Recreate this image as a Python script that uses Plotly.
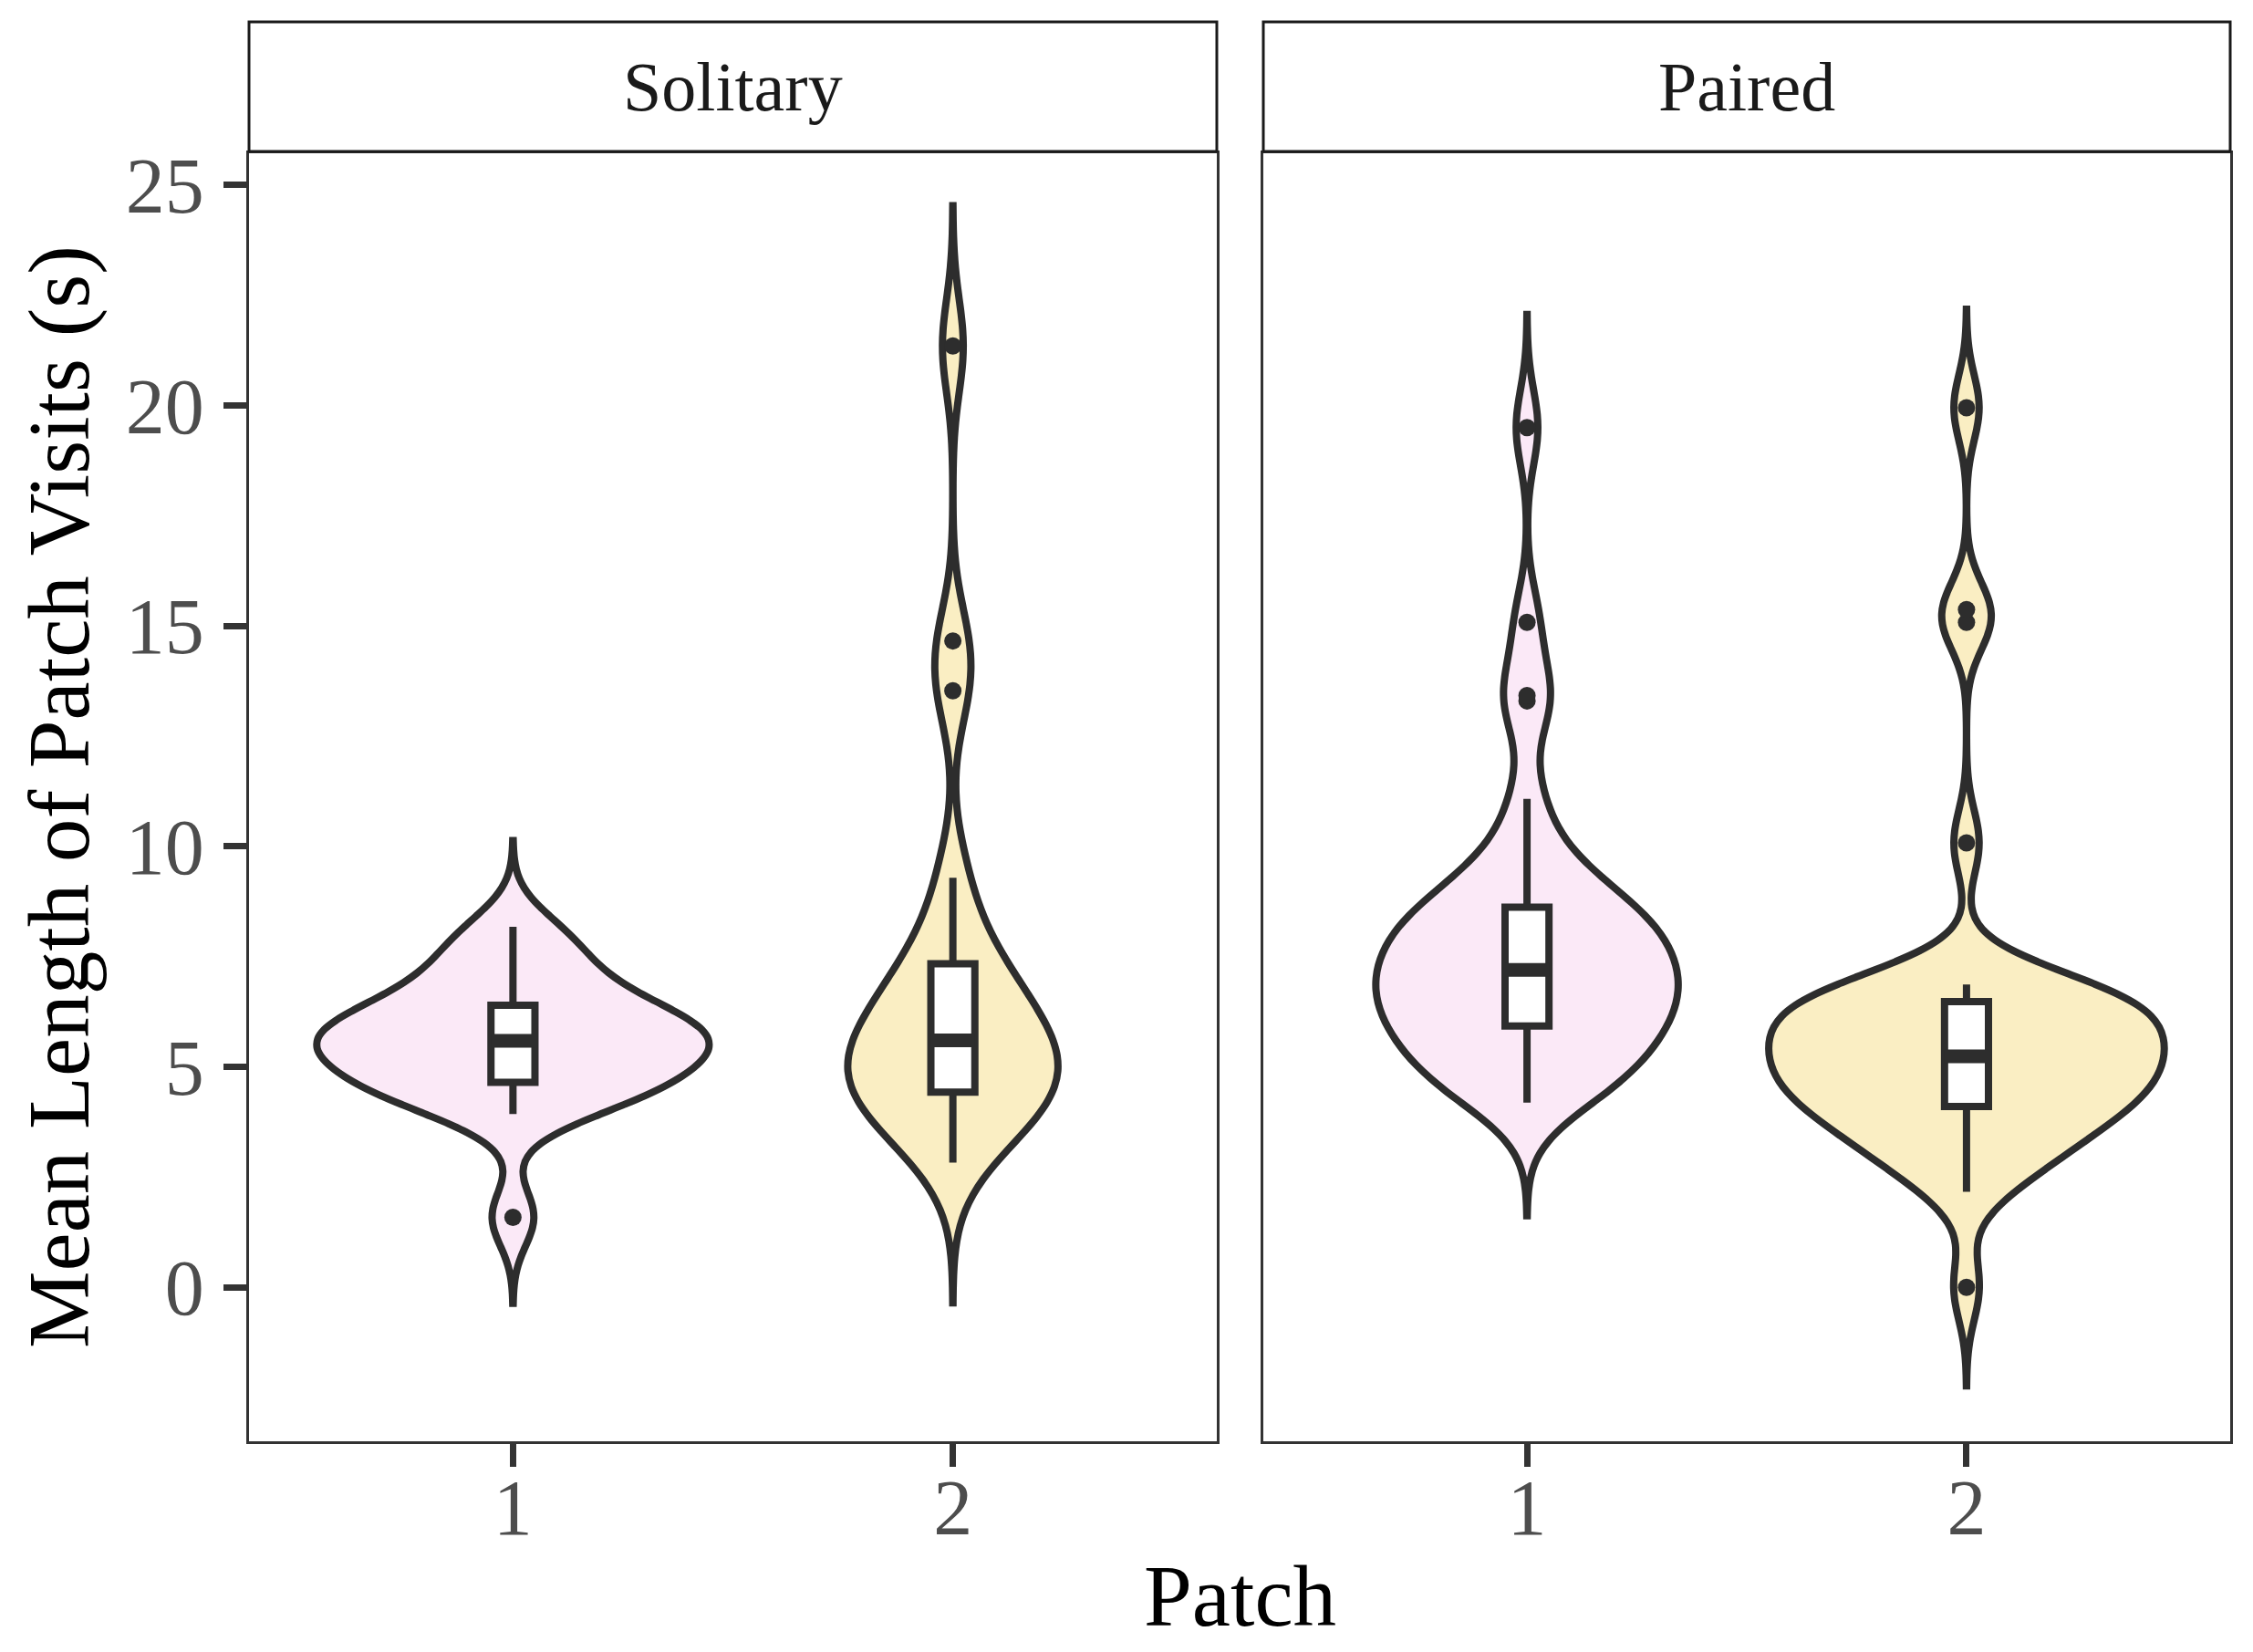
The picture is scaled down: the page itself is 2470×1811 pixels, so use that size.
import numpy as np
import plotly.graph_objects as go

# The page body has an 8px margin: shrink the figure so it fills 2470x1811 exactly
OFF = 8
PAGE_W, PAGE_H = 2470, 1811
W, H = PAGE_W - 2 * OFF, PAGE_H - 2 * OFF

facets = ["Solitary", "Paired"]
patches = [1, 2]
tick_vals_y = [0, 5, 10, 15, 20, 25]
tick_text_x = ["1", "2"]

# Mean length of patch visits (s)
solitary_p1 = [1.59, 3.93, 4.3, 4.5, 4.6, 4.67, 5.0, 5.3, 5.45, 5.55, 5.63, 5.7,
               5.85, 6.1, 6.38, 6.46, 6.8, 7.3, 7.7, 8.18]
solitary_p2 = [2.83, 3.5, 3.85, 4.1, 4.3, 4.43, 4.7, 4.95, 5.2, 5.4, 5.6, 5.85,
               6.15, 6.5, 6.9, 7.34, 7.9, 9.29, 13.53, 14.66, 21.35]
paired_p1 = [4.19, 4.38, 4.58, 4.78, 4.98, 5.17, 5.36, 5.55, 5.74, 5.93,
             6.07, 6.21, 6.35, 6.49, 6.63, 6.77, 6.91, 7.05, 7.20,
             7.36, 7.52, 7.68, 7.84, 8.0, 8.15, 8.3, 8.46, 8.62,
             8.85, 9.1, 9.45, 10.0, 11.08,
             13.3, 13.42, 15.08, 19.5]
paired_p2 = [0.0,
             2.17, 2.55, 2.85, 3.1, 3.3, 3.5, 3.68, 3.85, 4.0,
             4.133, 4.25, 4.37, 4.49, 4.61, 4.73, 4.85, 4.97, 5.09, 5.19,
             5.29, 5.41, 5.53, 5.65, 5.77, 5.89, 6.01, 6.13, 6.25, 6.45, 6.57,
             6.63, 6.69, 6.75, 6.81, 6.87,
             10.08, 15.08, 15.37, 19.95]

# kernel bandwidths and relative violin widths (area-scaled as in the original)
bandwidths = {"Solitary": [0.65, 1.06], "Paired": [0.855, 0.745]}
violin_widths = {"Solitary": [0.89, 0.477], "Paired": [0.687, 0.9]}

data = {"Solitary": [solitary_p1, solitary_p2], "Paired": [paired_p1, paired_p2]}
fills = ["#FBE9F7", "#FAEEC3"]
dark = "#2D2D2D"
font_family = "Liberation Serif"

fig = go.Figure()
axis_ids = {"Solitary": ("x", "y"), "Paired": ("x2", "y2")}


def box_stats(vals):
    """Tukey box statistics (quantile type 7, whiskers at 1.5 IQR)."""
    q1, med, q3 = np.percentile(vals, [25, 50, 75])
    iqr = q3 - q1
    inside = vals[(vals >= q1 - 1.5 * iqr) & (vals <= q3 + 1.5 * iqr)]
    outl = vals[(vals < q1 - 1.5 * iqr) | (vals > q3 + 1.5 * iqr)]
    return q1, med, q3, inside.min(), inside.max(), outl


box_w = 0.1
for f in facets:
    xa, ya = axis_ids[f]
    for i, p in enumerate(patches):
        vals = np.array(data[f][i])
        bw = bandwidths[f][i]
        fig.add_trace(go.Violin(
            y=vals, x0=p, xaxis=xa, yaxis=ya, name=f"{f} {p}",
            bandwidth=bw, spanmode="manual",
            span=[float(vals.min() - 3 * bw), float(vals.max() + 3 * bw)],
            scalemode="width", width=violin_widths[f][i], side="both",
            fillcolor=fills[i], line=dict(color=dark, width=8),
            points=False, box_visible=False, meanline_visible=False,
            showlegend=False, hoverinfo="skip"))
for f in facets:
    xa, ya = axis_ids[f]
    for i, p in enumerate(patches):
        vals = np.array(data[f][i])
        q1, med, q3, lo, hi, outl = box_stats(vals)
        fig.add_trace(go.Box(
            x=[p], q1=[q1], median=[med], q3=[q3], lowerfence=[lo], upperfence=[hi],
            xaxis=xa, yaxis=ya, boxpoints=False,
            width=box_w, fillcolor="white", whiskerwidth=0,
            line=dict(color=dark, width=8), showlegend=False, hoverinfo="skip"))
        fig.add_trace(go.Scatter(
            x=[p - box_w / 2, p + box_w / 2], y=[med, med], xaxis=xa, yaxis=ya,
            mode="lines", line=dict(color=dark, width=15), showlegend=False,
            hoverinfo="skip"))
        fig.add_trace(go.Scatter(
            x=[p] * len(outl), y=outl, xaxis=xa, yaxis=ya, mode="markers",
            marker=dict(color=dark, size=19, line=dict(width=0)),
            showlegend=False, hoverinfo="skip"))

# layout geometry, in page pixels
px_left = (273, 1334)
px_right = (1385, 2445)
panel_top, panel_bottom = 168, 1580
strip_top, strip_bottom = 24, 166


def fx(px):
    return (px - OFF) / W


def fy(py):
    return 1 - (py - OFF) / H


xd1 = [fx(px_left[0]), fx(px_left[1])]
xd2 = [fx(px_right[0]), fx(px_right[1])]
yd = [fy(panel_bottom), fy(panel_top)]

axis_common = dict(showline=True, mirror=True, linecolor="#333333", linewidth=3,
                   showgrid=False, zeroline=False, automargin=False)
tick_font = dict(family=font_family, size=86, color="#4D4D4D")
xcommon = dict(range=[0.4, 2.6], tickvals=patches, ticktext=tick_text_x,
               ticks="outside", ticklen=25, tickwidth=7, tickcolor="#333333",
               tickfont=tick_font, ticklabelstandoff=-29, **axis_common)
yrange = [-3.49, 25.72]

fig.update_layout(
    width=W, height=H, margin=dict(l=0, r=0, t=0, b=0),
    paper_bgcolor="white", plot_bgcolor="white",
    violinmode="overlay", boxmode="overlay", showlegend=False,
    xaxis=dict(domain=xd1, anchor="y", **xcommon),
    xaxis2=dict(domain=xd2, anchor="y2", **xcommon),
    yaxis=dict(domain=yd, anchor="x", range=yrange, tickvals=tick_vals_y,
               ticks="outside", ticklen=25, tickwidth=7, tickcolor="#333333",
               tickfont=tick_font, ticklabelstandoff=4, **axis_common),
    yaxis2=dict(domain=yd, anchor="x2", range=yrange, matches="y",
                showticklabels=False, ticks="", **axis_common),
    font=dict(family=font_family),
)

shapes = []
annotations = []
for f, xd in zip(facets, [xd1, xd2]):
    shapes.append(dict(type="rect", xref="paper", yref="paper",
                       x0=xd[0], x1=xd[1], y0=fy(strip_bottom), y1=fy(strip_top),
                       line=dict(color="#1A1A1A", width=3), fillcolor="white", layer="above"))
    annotations.append(dict(text=f, xref="paper", yref="paper",
                            x=(xd[0] + xd[1]) / 2, y=fy((strip_top + strip_bottom) / 2),
                            xanchor="center", yanchor="middle", showarrow=False,
                            font=dict(family=font_family, size=76, color="#1A1A1A")))
annotations.append(dict(text="Mean Length of Patch Visits (s)", xref="paper", yref="paper",
                        x=fx(65), y=fy((panel_top + panel_bottom) / 2), textangle=-90,
                        xanchor="center", yanchor="middle", showarrow=False,
                        font=dict(family=font_family, size=95, color="black")))
annotations.append(dict(text="Patch", xref="paper", yref="paper",
                        x=(xd1[0] + xd2[1]) / 2, y=fy(1750),
                        xanchor="center", yanchor="middle", showarrow=False,
                        font=dict(family=font_family, size=95, color="black")))
fig.update_layout(shapes=shapes, annotations=annotations)

fig.write_html("out.html")
